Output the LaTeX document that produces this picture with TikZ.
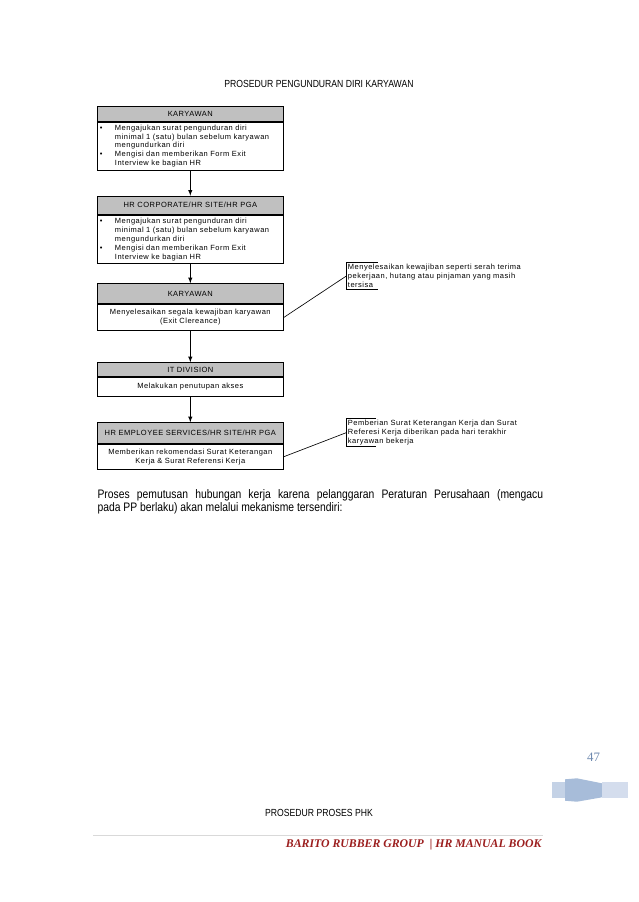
\documentclass[tikz,border=0pt]{standalone}
\usepackage{fontspec}
\setmainfont{Liberation Sans}
\newfontfamily\narrowfont[FakeStretch=0.84]{Liberation Sans}
\newfontfamily\boxfont[LetterSpace=6.5]{Liberation Sans}
\newfontfamily\footfont{Liberation Serif}
\usetikzlibrary{arrows}

\definecolor{headgray}{RGB}{192,192,192}
\definecolor{rulegray}{RGB}{217,217,217}
\definecolor{footred}{RGB}{156,31,31}
\definecolor{pagenum}{RGB}{111,138,176}
\definecolor{ribbonlight}{RGB}{196,210,230}
\definecolor{ribbondark}{RGB}{167,188,217}
\definecolor{ribbonpale}{RGB}{212,221,237}

\begin{document}
\begin{tikzpicture}[>=latex,x=0.9333pt,y=-0.9333pt,
	head/.style={draw,line width=0.8pt,fill=headgray,minimum width=173.6pt,inner sep=0pt,
		font=\boxfont\fontsize{7}{8.3}\selectfont},
	body/.style={draw,line width=0.8pt,minimum width=173.6pt,text width=168.6pt,
		inner xsep=2.5pt,inner ysep=0pt,align=center,font=\boxfont\fontsize{7}{8.3}\selectfont},
	note/.style={anchor=north west,inner xsep=1pt,inner ysep=1.5pt,align=left,
		font=\boxfont\fontsize{7}{8.3}\selectfont},
	flow/.style={->,line width=0.8pt},
	lead/.style={line width=0.6pt}]

\fill[white] (0,0) rectangle (638,902);
\useasboundingbox (0,0) rectangle (638,902);

\def\cx{190.3}

\node[font=\narrowfont\fontsize{9.6}{11}\selectfont] (title) at (319,84) {PROSEDUR PENGUNDURAN DIRI KARYAWAN};

\node[head,minimum height=14pt] (k1) at (\cx,105.7) [below] {KARYAWAN};
\node[body,align=left,minimum height=45.1pt] (b1) at (k1.south) [below] {%
	\begin{tabular}{@{}p{14pt}@{}l@{}}
	\textbullet & Mengajukan surat pengunduran diri\\
	& minimal 1 (satu) bulan sebelum karyawan\\
	& mengundurkan diri\\
	\textbullet & Mengisi dan memberikan Form Exit\\
	& Interview ke bagian HR
	\end{tabular}};

\node[head,minimum height=17.1pt] (k2) at (\cx,195.7) [below] {HR CORPORATE/HR SITE/HR PGA};
\node[body,align=left,minimum height=45.1pt] (b2) at (k2.south) [below] {%
	\begin{tabular}{@{}p{14pt}@{}l@{}}
	\textbullet & Mengajukan surat pengunduran diri\\
	& minimal 1 (satu) bulan sebelum karyawan\\
	& mengundurkan diri\\
	\textbullet & Mengisi dan memberikan Form Exit\\
	& Interview ke bagian HR
	\end{tabular}};

\node[head,minimum height=18.7pt] (k3) at (\cx,283.3) [below] {KARYAWAN};
\node[body,minimum height=24pt] (b3) at (k3.south) [below]
	{Menyelesaikan segala kewajiban karyawan\\(Exit Clereance)};

\node[head,minimum height=12.5pt] (k4) at (\cx,362.3) [below] {IT DIVISION};
\node[body,minimum height=18pt] (b4) at (k4.south) [below] {Melakukan penutupan akses};

\node[head,minimum height=19pt] (k5) at (\cx,422.3) [below] {HR EMPLOYEE SERVICES/HR SITE/HR PGA};
\node[body,minimum height=23.9pt] (b5) at (k5.south) [below]
	{Memberikan rekomendasi Surat Keterangan\\Kerja \& Surat Referensi Kerja};

\draw[flow] (b1) -- (k2);
\draw[flow] (b2) -- (k3);
\draw[flow] (b3) -- (k4);
\draw[flow] (b4) -- (k5);

\node[note] (n1) at (346.7,262.3) {Menyelesaikan kewajiban seperti serah terima\\
	pekerjaan, hutang atau pinjaman yang masih\\tersisa};
\draw[lead] ([xshift=29pt]n1.north west) -- (n1.north west) -- (n1.south west)
	-- ([xshift=29pt]n1.south west);
\draw[lead] (n1.west) -- (b3.east);

\node[note] (n2) at (346.7,418.3) {Pemberian Surat Keterangan Kerja dan Surat\\
	Referesi Kerja diberikan pada hari terakhir\\karyawan bekerja};
\draw[lead] ([xshift=27.5pt]n2.north west) -- (n2.north west) -- (n2.south west)
	-- ([xshift=27.5pt]n2.south west);
\draw[lead] (n2.west) -- (b5.east);

\node[anchor=north west,text width=416pt,align=justify,inner sep=0pt,
	font=\narrowfont\fontsize{11.5}{12.4}\selectfont] (para) at (97.3,489.5)
	{Proses pemutusan hubungan kerja karena pelanggaran Peraturan Perusahaan (mengacu\linebreak
	pada PP berlaku) akan melalui mekanisme tersendiri:};

\node[font=\footfont\fontsize{12}{14}\selectfont,text=pagenum] (page) at (593.5,757.5) {47};

\fill[ribbonlight] (551.7,781.7) rectangle (566,798.3);
\fill[ribbondark] (565,779.3) -- (577,778.3) -- (602,783.3) -- (602,797.3)
	-- (577,801.7) -- (565,800.7) -- cycle;
\fill[ribbonpale] (602,781.7) rectangle (627.7,798.3);

\node[font=\narrowfont\fontsize{9.6}{11}\selectfont] (sect) at (319,813) {PROSEDUR PROSES PHK};

\draw[rulegray,line width=1.2pt] (93,835.7) -- (543,835.7);

\node[anchor=east,inner sep=0pt,text=footred,
	font=\footfont\bfseries\itshape\fontsize{11}{13}\selectfont] (brand) at (541.7,845)
	{BARITO RUBBER GROUP ~| HR MANUAL BOOK};

\end{tikzpicture}
\end{document}
